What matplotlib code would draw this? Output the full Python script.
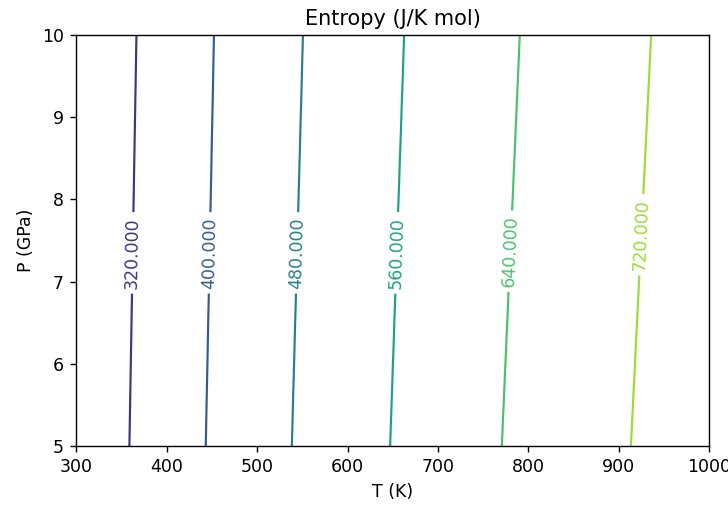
import numpy as np
import matplotlib
matplotlib.use("Agg")
import matplotlib.pyplot as plt

# Contour levels of entropy (J/K mol)
levels = [320, 400, 480, 560, 640, 720]
# Temperature (K) where each contour crosses P = 5 GPa and P = 10 GPa
T_at_P5 = [358.8, 443.2, 538.4, 647.1, 770.6, 913.4]
T_at_P10 = [366.6, 452.3, 550.7, 662.6, 790.5, 935.8]
P_edges = [5.0, 10.0]
label_P = [7.35, 7.35, 7.35, 7.35, 7.37, 7.57]

T = np.linspace(300, 1000, 351)
P = np.linspace(5, 10, 201)
TT, PP = np.meshgrid(T, P)

lv = np.array(levels, float)
t5 = np.array(T_at_P5)
t10 = np.array(T_at_P10)
S = np.empty_like(TT)
for i, p in enumerate(P):
    f = (p - P_edges[0]) / (P_edges[1] - P_edges[0])
    tk = t5 + f * (t10 - t5)
    lo_slope = (lv[1] - lv[0]) / (tk[1] - tk[0])
    hi_slope = (lv[-1] - lv[-2]) / (tk[-1] - tk[-2])
    tk_ext = np.concatenate([[200.0], tk, [1100.0]])
    lv_ext = np.concatenate([[lv[0] - lo_slope * (tk[0] - 200.0)], lv,
                             [lv[-1] + hi_slope * (1100.0 - tk[-1])]])
    S[i] = np.interp(T, tk_ext, lv_ext)

DPI = 125
fig = plt.figure(figsize=(728 / DPI, 508 / DPI), dpi=DPI)
ax = fig.add_axes([0.1047, 0.122, 0.8695, 0.809])
cs = ax.contour(TT, PP, S, levels=levels, cmap="viridis", vmin=240, vmax=800,
                linewidths=1.25)
manual = []
for k in range(len(levels)):
    f = (label_P[k] - 5) / 5
    manual.append((T_at_P5[k] + f * (T_at_P10[k] - T_at_P5[k]), label_P[k]))
ax.clabel(cs, fmt="%1.3f", manual=manual, fontsize=10, inline=True)

ax.set_xlim(300, 1000)
ax.set_ylim(5, 10)
ax.set_xlabel("T (K)")
ax.set_ylabel("P (GPa)")
ax.set_title("Entropy (J/K mol)")
fig.savefig("out.png", dpi=DPI)
